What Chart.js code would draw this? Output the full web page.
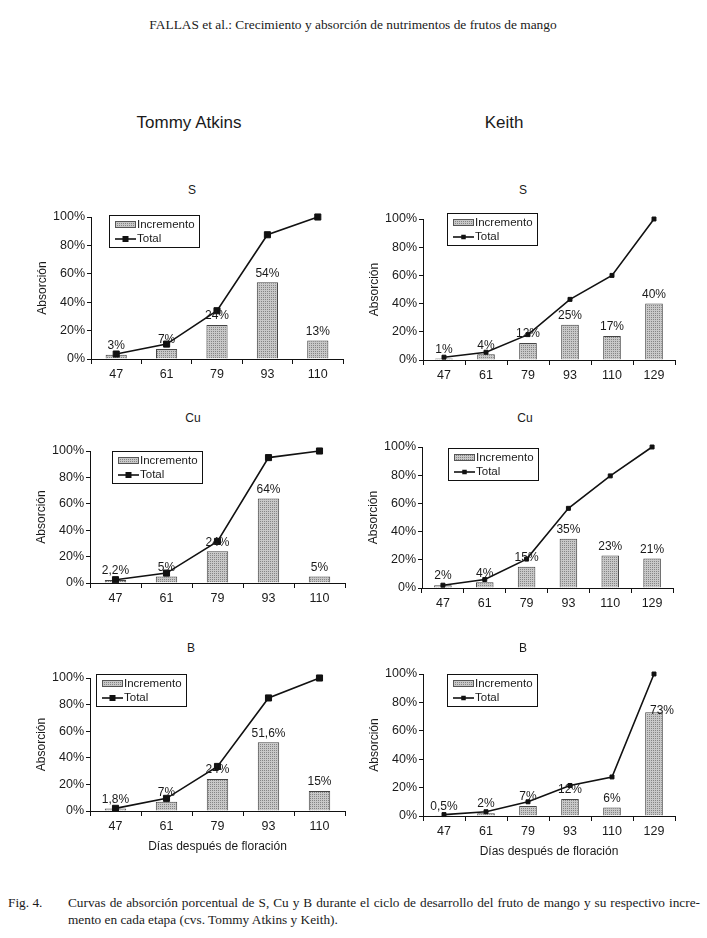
<!DOCTYPE html>
<html>
<head>
<meta charset="utf-8">
<script src="https://cdn.jsdelivr.net/npm/chart.js@4.4.0/dist/chart.umd.min.js"></script>
<style>
  body { margin: 0; background: #fff; width: 707px; height: 938px; position: relative; overflow: hidden;
         font-family: "Liberation Sans", Arial, sans-serif; color: #1a1a1a; }
  .t { position: absolute; white-space: nowrap; transform: translate(-50%, -50%); }
  .serif { font-family: "Liberation Serif", "Times New Roman", serif; }
  canvas { position: absolute; }
</style>
</head>
<body>
<div class="t serif" style="left:353px;top:25px;font-size:13.4px">FALLAS et al.: Crecimiento y absorción de nutrimentos de frutos de mango</div>
<div class="t" style="left:189px;top:123px;font-size:17px">Tommy Atkins</div>
<div class="t" style="left:504px;top:123px;font-size:17px">Keith</div>

<div class="serif" style="position:absolute;left:8px;top:895px;font-size:13.3px">Fig. 4.</div>
<div class="serif" style="position:absolute;left:68px;top:895px;width:632px;font-size:13.3px;text-align:justify;text-align-last:justify;white-space:nowrap">Curvas de absorción porcentual de S, Cu y B durante el ciclo de desarrollo del fruto de mango y su respectivo incre-</div>
<div class="serif" style="position:absolute;left:68px;top:912px;font-size:13.3px">mento en cada etapa (cvs. Tommy Atkins y Keith).</div>

<script>
// days after flowering
const daysTommy = ['47', '61', '79', '93', '110'];
const daysKeith = ['47', '61', '79', '93', '110', '129'];

// S
const sTommyInc = [3, 7, 24, 54, 13];
const sTommyTotal = [3.5, 10.5, 34, 87.5, 100];
const sKeithInc = [1, 4, 12, 25, 17, 40];
const sKeithTotal = [2, 5.5, 18, 43, 60, 100];
// Cu
const cuTommyInc = [2.2, 5, 24, 64, 5];
const cuTommyTotal = [2.5, 7.5, 31.5, 95, 100];
const cuKeithInc = [2, 4, 15, 35, 23, 21];
const cuKeithTotal = [2, 6, 20.5, 56.5, 79.5, 100];
// B
const bTommyInc = [1.8, 7, 24, 51.6, 15];
const bTommyTotal = [2, 9.5, 33.5, 85, 100];
const bKeithInc = [0.5, 2, 7, 12, 6, 73];
const bKeithTotal = [1, 3, 10, 21.5, 27.5, 100];

const yTicks = [0, 20, 40, 60, 80, 100];

const FONT = '"Liberation Sans", Arial, sans-serif';
Chart.defaults.font.family = FONT;
Chart.defaults.color = '#1a1a1a';

// dotted grey fill like the printed bars
function stipple() {
    var c = document.createElement('canvas');
    c.width = 2; c.height = 2;
    var g = c.getContext('2d');
    g.fillStyle = '#c8c8c8';
    g.fillRect(0, 0, 2, 2);
    g.fillStyle = '#858585';
    g.fillRect(0, 0, 1, 1);
    return g.createPattern(c, 'repeat');
}
const fill = stipple();

const barLabels = {
    id: 'barLabels',
    afterDatasetsDraw(chart, args, opts) {
        const meta = chart.getDatasetMeta(1);
        const vals = chart.data.datasets[1].data;
        const ctx = chart.ctx;
        ctx.save();
        ctx.font = '12px ' + FONT;
        ctx.fillStyle = '#1a1a1a';
        ctx.textAlign = 'center';
        ctx.textBaseline = 'bottom';
        meta.data.forEach((bar, i) => {
            const off = (opts.shift && opts.shift[i]) || [0, 0];
            ctx.fillText(String(vals[i]).replace('.', ',') + '%', bar.x + off[0], bar.y - 3 + off[1]);
        });
        ctx.restore();
    }
};

const boxLegend = {
    id: 'boxLegend',
    afterDraw(chart, args, opts) {
        const a = chart.chartArea, ctx = chart.ctx;
        const x = Math.round(a.left + opts.dx), y = Math.round(a.top + opts.dy);
        ctx.save();
        ctx.font = '11.5px ' + FONT;
        const w = Math.round(28 + ctx.measureText('Incremento').width + 4), h = 32;
        ctx.fillStyle = '#fff';
        ctx.fillRect(x, y, w, h);
        ctx.strokeStyle = '#111';
        ctx.lineWidth = 1;
        ctx.strokeRect(x + 0.5, y + 0.5, w, h);
        // bar swatch
        ctx.fillStyle = fill;
        ctx.fillRect(x + 6, y + 6, 20, 7);
        ctx.strokeStyle = '#555';
        ctx.strokeRect(x + 6.5, y + 6.5, 20, 6);
        // line swatch
        ctx.strokeStyle = '#111';
        ctx.lineWidth = 1.6;
        ctx.beginPath();
        ctx.moveTo(x + 6, y + 24);
        ctx.lineTo(x + 27, y + 24);
        ctx.stroke();
        ctx.fillStyle = '#111';
        const m = opts.marker;
        ctx.fillRect(x + 16.5 - m / 2, y + 24 - m / 2, m, m);
        ctx.fillStyle = '#1a1a1a';
        ctx.textBaseline = 'middle';
        ctx.fillText('Incremento', x + 28, y + 10);
        ctx.fillText('Total', x + 28, y + 24);
        ctx.restore();
    }
};

// chart area boxes [left, top, right, bottom] as measured on the page
const panels = [
    { name: 'S',  labels: daysTommy, inc: sTommyInc,  total: sTommyTotal,  area: [91, 217, 343, 359], leg: [18, -2], head: [192, 190], big: true },
    { name: 'S',  labels: daysKeith, inc: sKeithInc,  total: sKeithTotal,  area: [423, 219, 675, 360], leg: [24, -6], head: [523, 190], big: false },
    { name: 'Cu', labels: daysTommy, inc: cuTommyInc, total: cuTommyTotal, area: [90, 451, 345, 583], leg: [22, 0], head: [193, 418], big: true },
    { name: 'Cu', labels: daysKeith, inc: cuKeithInc, total: cuKeithTotal, area: [422, 447, 673, 588], leg: [26, 1], head: [525, 418], big: false },
    { name: 'B',  labels: daysTommy, inc: bTommyInc,  total: bTommyTotal,  area: [90, 678, 345, 811], leg: [6, -4], head: [191, 648], big: true, xTitle: true },
    { name: 'B',  labels: daysKeith, inc: bKeithInc,  total: bKeithTotal,  area: [423, 674, 675, 816], leg: [24, 0], head: [523, 648], big: false, xTitle: true, shift: { 5: [8, 7] } }
];

panels.forEach(function (p) {
    const yW = 62, padT = 20, padR = 10;
    const xH = p.xTitle ? 46 : 28;
    const left = p.area[0] - yW, top = p.area[1] - padT;
    const cv = document.createElement('canvas');
    cv.width = p.area[2] - left + padR;
    cv.height = p.area[3] - top + xH;
    cv.style.left = left + 'px';
    cv.style.top = top + 'px';
    document.body.appendChild(cv);

    const head = document.createElement('div');
    head.className = 't';
    head.style.left = p.head[0] + 'px';
    head.style.top = p.head[1] + 'px';
    head.style.fontSize = '12px';
    head.textContent = p.name;
    document.body.appendChild(head);

    new Chart(cv, {
        type: 'bar',
        data: {
            labels: p.labels,
            datasets: [{
                type: 'line',
                label: 'Total',
                data: p.total,
                borderColor: '#111',
                borderWidth: 1.6,
                pointStyle: 'rect',
                pointRadius: p.big ? 4.3 : 2.8,
                pointBackgroundColor: '#111',
                pointBorderColor: '#111',
                pointBorderWidth: 1,
                tension: 0,
                clip: false,
                order: 0
            }, {
                type: 'bar',
                label: 'Incremento',
                data: p.inc,
                backgroundColor: fill,
                borderColor: '#444',
                borderWidth: 1,
                barPercentage: 0.42,
                categoryPercentage: 1,
                order: 1
            }]
        },
        options: {
            responsive: false,
            animation: false,
            devicePixelRatio: 1,
            layout: { padding: { top: padT, right: padR, left: 0, bottom: 0 } },
            plugins: {
                legend: { display: false },
                tooltip: { enabled: false },
                barLabels: { shift: p.shift },
                boxLegend: { dx: p.leg[0], dy: p.leg[1], marker: p.big ? 6 : 4.5 }
            },
            scales: {
                x: {
                    grid: { offset: true, drawOnChartArea: false, drawTicks: true, tickLength: 5, color: '#111' },
                    border: { color: '#111', width: 1 },
                    ticks: { font: { size: 12.5 }, padding: 3, maxRotation: 0 },
                    title: { display: !!p.xTitle, text: 'Días después de floración', font: { size: 12 }, padding: { top: 3, bottom: 3 } },
                    afterFit: function (s) { s.height = xH; }
                },
                y: {
                    min: 0,
                    max: 100,
                    afterBuildTicks: function (s) { s.ticks = yTicks.map(v => ({ value: v })); },
                    grid: { drawOnChartArea: false, drawTicks: true, tickLength: 4, color: '#111' },
                    border: { color: '#111', width: 1 },
                    ticks: { font: { size: 12.5 }, padding: 2, callback: v => v + '%' },
                    title: { display: true, text: 'Absorción', font: { size: 12 }, padding: { top: 6, bottom: 0 } },
                    afterFit: function (s) { s.width = yW; }
                }
            }
        },
        plugins: [barLabels, boxLegend]
    });
});
</script>
</body>
</html>
